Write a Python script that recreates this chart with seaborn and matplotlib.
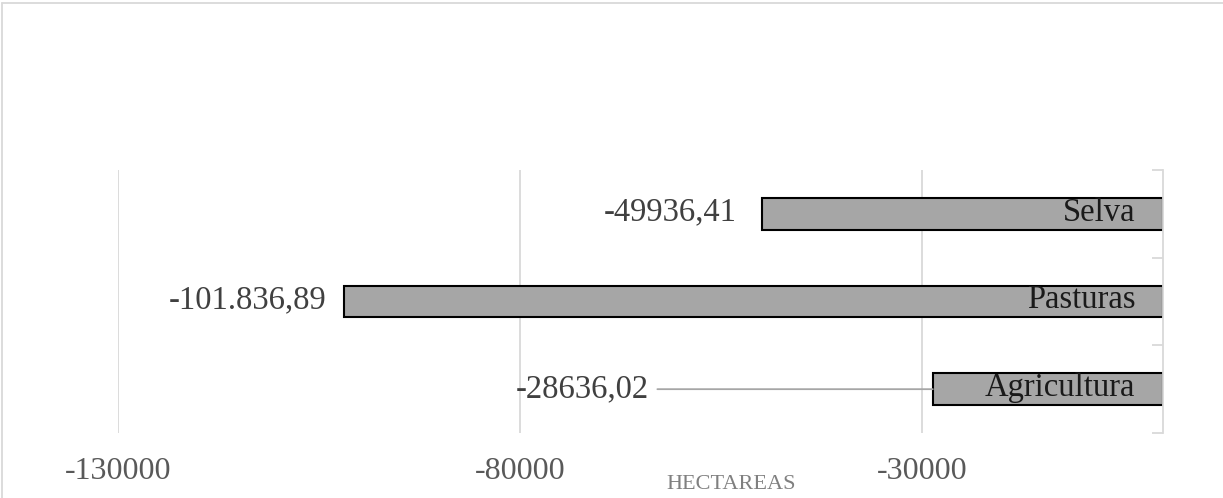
import matplotlib
matplotlib.use("Agg")
import matplotlib.pyplot as plt
import seaborn as sns
import pandas as pd
from matplotlib.lines import Line2D

categories = ["Selva", "Pasturas", "Agricultura"]
values = [-49936.41, -101836.89, -28636.02]
value_labels = ["-49936,41", "-101.836,89", "-28636,02"]
x_ticks = [-130000, -80000, -30000]
x_tick_labels = ["-130000", "-80000", "-30000"]
axis_title = "HECTAREAS"

sns.set_theme(style="white")
plt.rcParams["font.family"] = ["Liberation Serif", "DejaVu Serif"]

df = pd.DataFrame({"cat": categories, "val": values})

W, H = 1223, 498
fig = plt.figure(figsize=(W / 100, H / 100), dpi=100)
ax = fig.add_axes([118 / W, 1 - 433 / H, (1163 - 118) / W, (433 - 170) / H])

sns.barplot(data=df, x="val", y="cat", orient="h", color="#a6a6a6",
            saturation=1, width=0.365, edgecolor="black", linewidth=1.5, ax=ax)

ax.set_xlim(-130000, 0)
ax.set_ylim(2.5, -0.5)
ax.set_xticks(x_ticks)
ax.set_xticklabels(x_tick_labels, color="#595959", fontsize=23)
ax.tick_params(axis="x", length=0, pad=17)
ax.grid(axis="x", color="#d9d9d9", linewidth=1.3)
ax.set_axisbelow(True)
ax.set_xlabel("")
ax.set_ylabel("")

for s in ["top", "bottom", "left"]:
    ax.spines[s].set_visible(False)
ax.spines["right"].set_color("#d9d9d9")
ax.spines["right"].set_linewidth(1.3)

ax.set_yticks([])
ax.set_yticks([-0.5, 0.5, 1.5, 2.5], minor=True)
ax.yaxis.set_ticks_position("right")
ax.tick_params(axis="y", which="minor", direction="in", length=8,
               color="#d9d9d9", width=1.3, right=True, left=False, labelright=False)
ax.tick_params(axis="y", which="major", length=0, labelright=False, labelleft=False)

# category labels inside bars
for i, c in enumerate(categories):
    ax.annotate(c, xy=(0, i), xytext=(-20, 1), textcoords="offset points",
                ha="right", va="center", fontsize=23.5, color="#1a1a1a")

# value labels
offsets = [-18, -13]
for i in range(2):
    ax.annotate(value_labels[i], xy=(values[i], i), xytext=(offsets[i], 1),
                textcoords="offset points", ha="right", va="center",
                fontsize=23.5, color="#404040")

ax.annotate(value_labels[2], xy=(values[2], 2), xytext=(-64000, 2),
            textcoords="data", ha="right", va="center", fontsize=23.5, color="#404040",
            arrowprops=dict(arrowstyle="-", color="#a6a6a6", lw=1.3,
                            shrinkA=4, shrinkB=0))

fig.text(731 / W, 1 - 484 / H, axis_title, ha="center", va="center",
         fontsize=16, color="#808080")

# chart area border
fig.add_artist(Line2D([2 / W, 1], [1 - 3 / H, 1 - 3 / H], color="#d9d9d9", lw=1.3))
fig.add_artist(Line2D([2 / W, 2 / W], [0, 1 - 3 / H], color="#d9d9d9", lw=1.3))

fig.savefig("out.png", dpi=100, facecolor="white")
